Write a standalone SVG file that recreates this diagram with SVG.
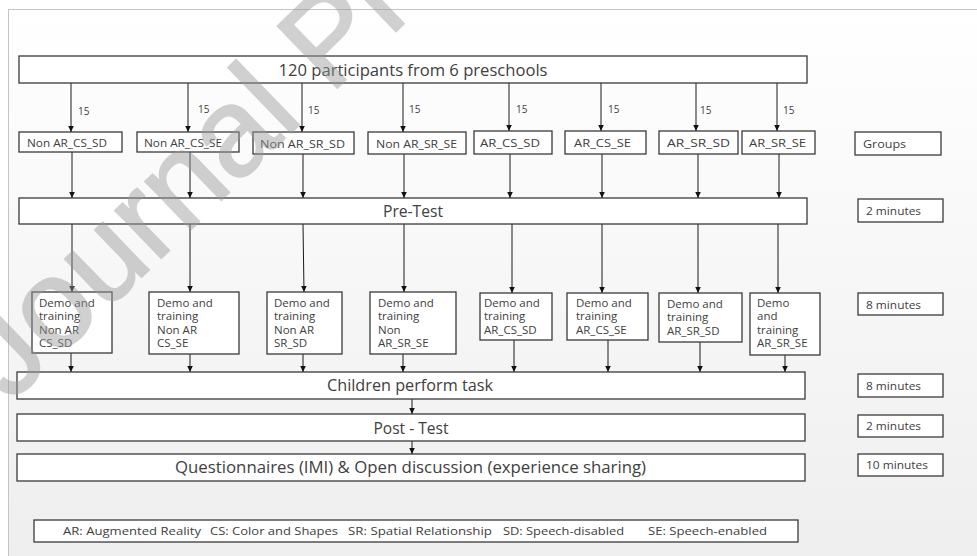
<svg xmlns="http://www.w3.org/2000/svg" width="977" height="556" viewBox="0 0 977 556">
<defs>
<linearGradient id="bg" x1="0" y1="0" x2="0" y2="1">
<stop offset="0" stop-color="#ffffff"/>
<stop offset="1" stop-color="#eeeeee"/>
</linearGradient>
<marker id="ah" markerUnits="userSpaceOnUse" markerWidth="6" markerHeight="6" refX="6" refY="3" orient="auto">
<path d="M0,0.2 L6,3 L0,5.8 z" fill="#111"/>
</marker>
<style>
.box{fill:#fff;stroke:#3a3a3a;stroke-width:1.3}
.t{font-family:"Open Sans","DejaVu Sans","Liberation Sans",sans-serif;fill:#404040}
.big{font-size:16px;text-anchor:middle}
.sm{font-size:11.5px}
.lb{font-size:10px}
.c line{stroke:#1a1a1a;stroke-width:1;marker-end:url(#ah)}
</style>
</defs>
<rect x="0" y="0" width="977" height="556" fill="#fff"/>
<rect x="8.5" y="9.5" width="990" height="560" fill="url(#bg)" stroke="#c4c4c4" stroke-width="1"/>

<g id="connectors" class="c">
<line x1="71" y1="83" x2="71" y2="132"/>
<line x1="188" y1="83" x2="188" y2="132"/>
<line x1="302" y1="83" x2="302" y2="132"/>
<line x1="403" y1="83" x2="403" y2="132"/>
<line x1="509" y1="83" x2="509" y2="131"/>
<line x1="601" y1="83" x2="601" y2="131"/>
<line x1="696" y1="83" x2="696" y2="131"/>
<line x1="777" y1="83" x2="777" y2="131"/>
<line x1="72" y1="152" x2="72" y2="198"/>
<line x1="190" y1="152" x2="190" y2="198"/>
<line x1="303" y1="154" x2="303" y2="198"/>
<line x1="404" y1="154" x2="404" y2="198"/>
<line x1="510" y1="154" x2="510" y2="198"/>
<line x1="602" y1="154" x2="602" y2="198"/>
<line x1="698" y1="154" x2="698" y2="198"/>
<line x1="779" y1="154" x2="779" y2="198"/>
<line x1="72" y1="224" x2="72" y2="292"/>
<line x1="190" y1="224" x2="190" y2="292"/>
<line x1="303" y1="224" x2="304" y2="292"/>
<line x1="404" y1="224" x2="404" y2="292"/>
<line x1="512" y1="224" x2="512" y2="293"/>
<line x1="602" y1="224" x2="602" y2="293"/>
<line x1="698" y1="224" x2="698" y2="293"/>
<line x1="778" y1="224" x2="778" y2="293"/>
<line x1="71" y1="353" x2="71" y2="372"/>
<line x1="190" y1="354" x2="190" y2="372"/>
<line x1="303" y1="354" x2="303" y2="372"/>
<line x1="403" y1="345" x2="403" y2="372"/>
<line x1="514" y1="340" x2="514" y2="372"/>
<line x1="608" y1="340" x2="608" y2="372"/>
<line x1="700" y1="342" x2="700" y2="372"/>
<line x1="785" y1="355" x2="785" y2="372"/>
<line x1="412" y1="399" x2="412" y2="414"/>
<line x1="412" y1="441" x2="412" y2="454"/>
</g>

<g class="t lb">
<text x="78" y="115">15</text>
<text x="198" y="113">15</text>
<text x="308" y="114">15</text>
<text x="409" y="113">15</text>
<text x="516" y="113">15</text>
<text x="608" y="113">15</text>
<text x="700" y="114">15</text>
<text x="783" y="114">15</text>
</g>

<g id="n-top"><rect class="box" x="19" y="56" width="788" height="27"/><text class="t big" x="413" y="75.5" textLength="269" lengthAdjust="spacingAndGlyphs">120 participants from 6 preschools</text></g>

<g id="g1"><rect class="box" x="19" y="132" width="103" height="20"/><text class="t sm" x="27" y="146.5" textLength="80" lengthAdjust="spacingAndGlyphs">Non AR_CS_SD</text></g>
<g id="g2"><rect class="box" x="137" y="132" width="102" height="20"/><text class="t sm" x="144" y="146.5" textLength="78" lengthAdjust="spacingAndGlyphs">Non AR_CS_SE</text></g>
<g id="g3"><rect class="box" x="253" y="132" width="101" height="22"/><text class="t sm" x="260" y="147.5" textLength="85" lengthAdjust="spacingAndGlyphs">Non AR_SR_SD</text></g>
<g id="g4"><rect class="box" x="368" y="132" width="98" height="22"/><text class="t sm" x="376" y="147.5" textLength="81" lengthAdjust="spacingAndGlyphs">Non AR_SR_SE</text></g>
<g id="g5"><rect class="box" x="474" y="131" width="78" height="23"/><text class="t sm" x="480" y="147" textLength="60" lengthAdjust="spacingAndGlyphs">AR_CS_SD</text></g>
<g id="g6"><rect class="box" x="565" y="131" width="81" height="23"/><text class="t sm" x="574" y="147" textLength="57" lengthAdjust="spacingAndGlyphs">AR_CS_SE</text></g>
<g id="g7"><rect class="box" x="659" y="131" width="79" height="23"/><text class="t sm" x="667" y="147" textLength="63" lengthAdjust="spacingAndGlyphs">AR_SR_SD</text></g>
<g id="g8"><rect class="box" x="742" y="131" width="73" height="23"/><text class="t sm" x="749" y="147" textLength="57" lengthAdjust="spacingAndGlyphs">AR_SR_SE</text></g>
<g id="lab-groups"><rect class="box" x="855" y="132" width="86" height="23"/><text class="t sm" x="863" y="148" textLength="43" lengthAdjust="spacingAndGlyphs">Groups</text></g>

<g id="n-pretest"><rect class="box" x="19" y="198" width="788" height="26"/><text class="t big" x="413" y="216.5" textLength="60" lengthAdjust="spacingAndGlyphs">Pre-Test</text></g>
<g id="t-pre"><rect class="box" x="858" y="199" width="85" height="23"/><text class="t sm" x="866" y="215" textLength="55" lengthAdjust="spacingAndGlyphs">2 minutes</text></g>

<g id="d1"><rect class="box" x="32" y="292" width="80" height="61"/><text class="t sm"><tspan x="39" y="306.5">Demo and</tspan><tspan x="39" y="320">training</tspan><tspan x="39" y="333.5">Non AR</tspan><tspan x="39" y="347">CS_SD</tspan></text></g>
<g id="d2"><rect class="box" x="149" y="292" width="90" height="62"/><text class="t sm"><tspan x="157" y="306.5">Demo and</tspan><tspan x="157" y="320">training</tspan><tspan x="157" y="333.5">Non AR</tspan><tspan x="157" y="347">CS_SE</tspan></text></g>
<g id="d3"><rect class="box" x="267" y="292" width="75" height="62"/><text class="t sm"><tspan x="274" y="306.5">Demo and</tspan><tspan x="274" y="320">training</tspan><tspan x="274" y="333.5">Non AR</tspan><tspan x="274" y="347">SR_SD</tspan></text></g>
<g id="d4"><rect class="box" x="370" y="292" width="86" height="62"/><text class="t sm"><tspan x="378" y="306.5">Demo and</tspan><tspan x="378" y="320">training</tspan><tspan x="378" y="333.5">Non</tspan><tspan x="378" y="347">AR_SR_SE</tspan></text></g>
<g id="d5"><rect class="box" x="480" y="293" width="72" height="47"/><text class="t sm"><tspan x="484" y="306.5">Demo and</tspan><tspan x="484" y="320">training</tspan><tspan x="484" y="333.5">AR_CS_SD</tspan></text></g>
<g id="d6"><rect class="box" x="567" y="293" width="81" height="47"/><text class="t sm"><tspan x="576" y="306.5">Demo and</tspan><tspan x="576" y="320">training</tspan><tspan x="576" y="333.5">AR_CS_SE</tspan></text></g>
<g id="d7"><rect class="box" x="659" y="293" width="83" height="49"/><text class="t sm"><tspan x="667" y="307.5">Demo and</tspan><tspan x="667" y="321">training</tspan><tspan x="667" y="334.5">AR_SR_SD</tspan></text></g>
<g id="d8"><rect class="box" x="750" y="293" width="70" height="62"/><text class="t sm"><tspan x="757" y="306.5">Demo</tspan><tspan x="757" y="320">and</tspan><tspan x="757" y="333.5">training</tspan><tspan x="757" y="347">AR_SR_SE</tspan></text></g>
<g id="t-demo"><rect class="box" x="858" y="293" width="85" height="22"/><text class="t sm" x="866" y="308.5" textLength="55" lengthAdjust="spacingAndGlyphs">8 minutes</text></g>

<g id="n-children"><rect class="box" x="17" y="372" width="788" height="27"/><text class="t big" x="410" y="391" textLength="166" lengthAdjust="spacingAndGlyphs">Children perform task</text></g>
<g id="t-children"><rect class="box" x="858" y="374" width="85" height="23"/><text class="t sm" x="866" y="390" textLength="55" lengthAdjust="spacingAndGlyphs">8 minutes</text></g>

<g id="n-post"><rect class="box" x="17" y="414" width="788" height="27"/><text class="t big" x="411" y="433.5" textLength="75" lengthAdjust="spacingAndGlyphs">Post - Test</text></g>
<g id="t-post"><rect class="box" x="858" y="415" width="85" height="22"/><text class="t sm" x="866" y="430" textLength="55" lengthAdjust="spacingAndGlyphs">2 minutes</text></g>

<g id="n-quest"><rect class="box" x="17" y="454" width="788" height="27"/><text class="t big" x="410.5" y="473" textLength="471" lengthAdjust="spacingAndGlyphs">Questionnaires (IMI) &amp; Open discussion (experience sharing)</text></g>
<g id="t-quest"><rect class="box" x="858" y="454" width="85" height="22"/><text class="t sm" x="866" y="469" textLength="62" lengthAdjust="spacingAndGlyphs">10 minutes</text></g>

<g id="legend"><rect class="box" x="34" y="520" width="764" height="22"/>
<g class="t sm">
<text x="63" y="535" textLength="138" lengthAdjust="spacingAndGlyphs">AR: Augmented Reality</text>
<text x="210" y="535" textLength="128" lengthAdjust="spacingAndGlyphs">CS: Color and Shapes</text>
<text x="348" y="535" textLength="144" lengthAdjust="spacingAndGlyphs">SR: Spatial Relationship</text>
<text x="503" y="535" textLength="121" lengthAdjust="spacingAndGlyphs">SD: Speech-disabled</text>
<text x="648" y="535" textLength="119" lengthAdjust="spacingAndGlyphs">SE: Speech-enabled</text>
</g></g>

<g id="watermark" opacity="0.45"><text x="0" y="0" transform="translate(10,404) rotate(-44)" font-family="Liberation Sans, sans-serif" font-size="125" fill="#999" stroke="#999" stroke-width="2">Journal Pre-proof</text></g>
</svg>
